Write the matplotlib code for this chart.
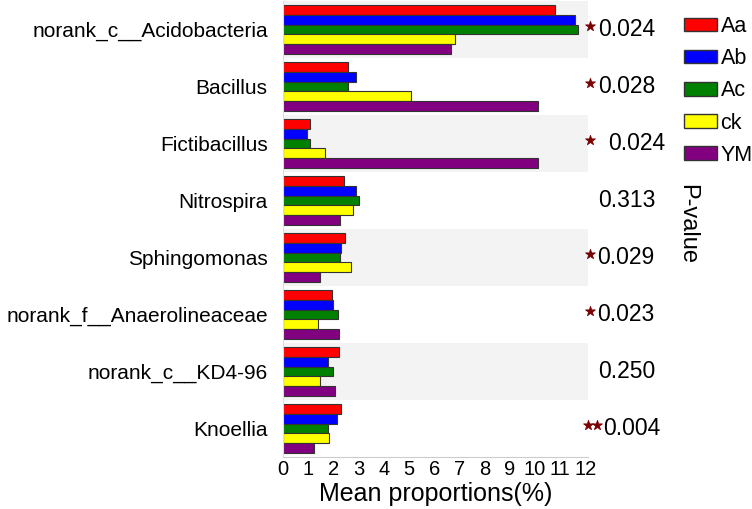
import numpy as np
import matplotlib.pyplot as plt
from matplotlib.patches import Patch
import matplotlib.transforms as mtransforms

plt.rcParams['font.family'] = ['Liberation Sans', 'DejaVu Sans']

# taxa (top to bottom)
taxa = ["norank_c__Acidobacteria", "Bacillus", "Fictibacillus", "Nitrospira",
        "Sphingomonas", "norank_f__Anaerolineaceae", "norank_c__KD4-96", "Knoellia"]
groups = ["Aa", "Ab", "Ac", "ck", "YM"]
colors = ["#ff0000", "#0000ff", "#008000", "#ffff00", "#800080"]

# mean proportions (%) per group
aa = [10.8, 2.58, 1.06, 2.42, 2.45, 1.95, 2.21, 2.29]
ab = [11.6, 2.90, 0.95, 2.90, 2.30, 2.00, 1.78, 2.13]
ac = [11.7, 2.57, 1.08, 3.03, 2.26, 2.20, 2.00, 1.78]
ck = [6.84, 5.08, 1.66, 2.77, 2.69, 1.37, 1.47, 1.84]
ym = [6.65, 10.1, 10.1, 2.26, 1.48, 2.24, 2.05, 1.23]

p_values = ["0.024", "0.028", "0.024", "0.313", "0.029", "0.023", "0.250", "0.004"]
n_stars = [1, 1, 1, 0, 1, 1, 0, 2]
# horizontal placement of the p-value text (axes fraction)
p_x = [1.033, 1.033, 1.066, 1.033, 1.030, 1.030, 1.033, 1.049]

fig = plt.figure(figsize=(7.52, 5.09), dpi=100)
ax = fig.add_axes([283 / 752, 1 - 457 / 509, 305 / 752, 456 / 509])

y = np.arange(len(taxa))
h = 0.173
series = [aa, ab, ac, ck, ym]

# alternating background bands
for i in range(len(taxa)):
    if i % 2 == 0:
        ax.axhspan(i - 0.5, i + 0.5, color="#f3f3f3", zorder=0, lw=0)

for k, (vals, c) in enumerate(zip(series, colors)):
    ax.barh(y - 2.5 * h + h / 2 + k * h, vals, height=h, color=c,
            edgecolor="#333333", linewidth=0.8, zorder=2)

ax.set_ylim(len(taxa) - 0.5, -0.5)
ax.set_xlim(0, 12.1)
ax.set_xticks(range(13))
ax.tick_params(axis="x", labelsize=14.5, length=0, pad=2)
ax.set_yticks(y)
ax.set_yticklabels(taxa, fontsize=15)
ax.tick_params(axis="y", length=0, pad=11)
ax.set_xlabel("Mean proportions(%)", fontsize=18, labelpad=2)

for s in ["top", "right"]:
    ax.spines[s].set_visible(False)
ax.spines["left"].set_color("#dddddd")
ax.spines["bottom"].set_color("#cccccc")

# p-values and significance stars
trans = mtransforms.blended_transform_factory(ax.transAxes, ax.transData)
for i, (p, n, px) in enumerate(zip(p_values, n_stars, p_x)):
    ax.text(px, i, p, transform=trans, fontsize=16.5, va="center", ha="left",
            clip_on=False)
    if n:
        sx = [1.007] if n == 1 else [0.999, 1.028]
        ax.scatter(sx, [i - 0.07] * n, transform=trans, marker="*", s=55,
                   color="#7a0000", clip_on=False, zorder=3, linewidths=0.6,
                   edgecolors="#7a0000")

fig.text(687 / 752, 1 - 224 / 509, "P-value", rotation=270, fontsize=17,
         ha="center", va="center")

handles = [Patch(facecolor=c, edgecolor="#333333", label=g) for g, c in zip(groups, colors)]
fig.legend(handles=handles, loc="upper left", bbox_to_anchor=(684 / 752, 1 - 16 / 509),
           frameon=False, fontsize=15.5, handlelength=1.55, handleheight=0.6,
           handletextpad=0.15, labelspacing=0.52, borderaxespad=0, borderpad=0)

plt.savefig("out.png", dpi=100)
